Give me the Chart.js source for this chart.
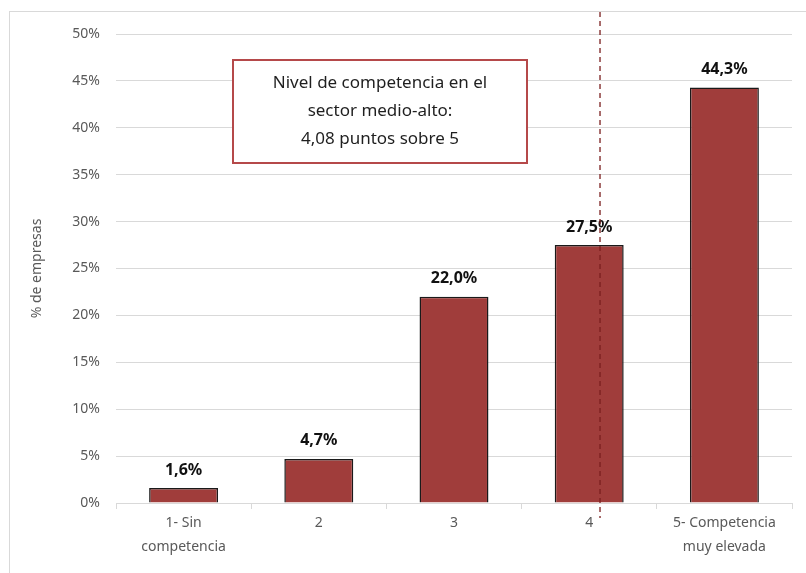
<!DOCTYPE html>
<html>
<head>
<meta charset="utf-8">
<script src="https://cdn.jsdelivr.net/npm/chart.js@4"></script>
<style>
  html, body { margin: 0; padding: 0; background: #fff; }
  #wrap { position: relative; width: 806px; height: 573px; overflow: hidden; }
  #frame { position: absolute; left: 9px; top: 11px; width: 820px; height: 600px; border: 1px solid #d9d9d9; }
  canvas { position: absolute; left: 0; top: 0; }
</style>
</head>
<body>
<div id="wrap">
  <div id="frame"></div>
  <canvas id="myChart" width="806" height="573"></canvas>
</div>
<script>
var categories = [["1- Sin", "competencia"], "2", "3", "4", ["5- Competencia", "muy elevada"]];
var valores = [1.6, 4.7, 22.0, 27.5, 44.3];
var etiquetas = ["1,6%", "4,7%", "22,0%", "27,5%", "44,3%"];
var nivelMedio = 4.08;
var notaTexto = ["Nivel de competencia en el", "sector medio-alto:", "4,08 puntos sobre 5"];

var fontName = "'Noto Sans', 'DejaVu Sans', sans-serif";

// labels on top of the bars
var labelsPlugin = {
    id: 'barLabels',
    afterDatasetsDraw: function(chart) {
        var c = chart.ctx;
        var meta = chart.getDatasetMeta(0);
        c.save();
        c.font = "bold 16px " + fontName;
        c.fillStyle = "#111";
        c.textAlign = "center";
        c.textBaseline = "bottom";
        meta.data.forEach(function(bar, i) {
            c.fillText(etiquetas[i], bar.x, bar.y - 10);
        });
        c.restore();
    }
};

// dashed line at the mean level + note box
var notePlugin = {
    id: 'nota',
    afterDraw: function(chart) {
        var c = chart.ctx;
        var xs = chart.scales.x;
        var a = xs.getPixelForValue(Math.floor(nivelMedio) - 1);
        var b = xs.getPixelForValue(Math.floor(nivelMedio));
        var x = a + (nivelMedio - Math.floor(nivelMedio)) * (b - a);
        c.save();
        c.strokeStyle = "#7a1f1f";
        c.lineWidth = 1.3;
        c.setLineDash([5, 4]);
        c.beginPath();
        c.moveTo(x, 12);
        c.lineTo(x, chart.chartArea.bottom + 15);
        c.stroke();
        c.setLineDash([]);

        c.fillStyle = "#fff";
        c.fillRect(233, 60, 294, 103);
        c.strokeStyle = "#b5494a";
        c.lineWidth = 2;
        c.strokeRect(233, 60, 294, 103);
        c.fillStyle = "#1f1f1f";
        c.font = "17px " + fontName;
        c.textAlign = "center";
        c.textBaseline = "middle";
        notaTexto.forEach(function(t, i) {
            c.fillText(t, 380, 83 + i * 28);
        });
        c.restore();
    }
};

var ctx = document.getElementById("myChart");
var myChart = new Chart(ctx, {
    type: 'bar',
    data: {
        labels: categories,
        datasets: [{
            data: valores,
            backgroundColor: '#a03d3b',
            borderColor: '#1a1a1a',
            borderWidth: 1.5,
            borderSkipped: 'bottom',
            categoryPercentage: 1,
            barPercentage: 0.51
        }]
    },
    options: {
        responsive: false,
        animation: false,
        layout: { padding: { left: 12, right: 14, top: 34, bottom: 0 } },
        plugins: {
            legend: { display: false },
            tooltip: { enabled: false }
        },
        scales: {
            x: {
                grid: { drawOnChartArea: false, drawTicks: true, tickLength: 6, color: '#d9d9d9' },
                border: { color: '#d9d9d9' },
                ticks: { color: '#595959', font: { family: fontName, size: 14, lineHeight: 1.7 }, maxRotation: 0, padding: 2 },
                afterFit: function(s) { s.height = 70; }
            },
            y: {
                min: 0,
                max: 50,
                ticks: {
                    stepSize: 5,
                    color: '#595959',
                    padding: 16,
                    font: { family: fontName, size: 14 },
                    callback: function(v) { return v + '%'; }
                },
                grid: { color: '#d9d9d9', drawTicks: false },
                border: { display: false },
                title: { display: true, text: '% de empresas', color: '#595959', font: { family: fontName, size: 14 }, padding: { top: 17, bottom: 0 } },
                afterFit: function(s) { s.width = 104; }
            }
        }
    },
    plugins: [labelsPlugin, notePlugin]
});
</script>
</body>
</html>
